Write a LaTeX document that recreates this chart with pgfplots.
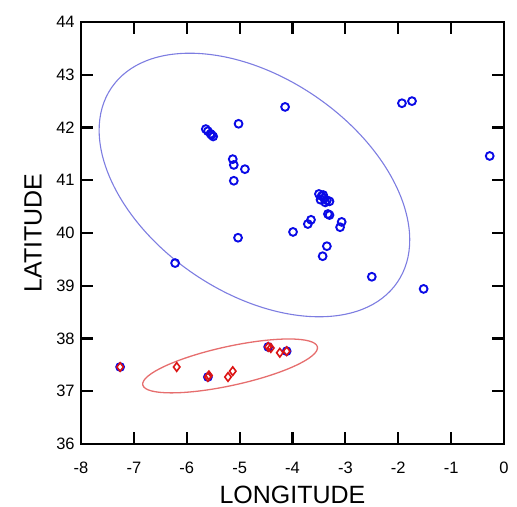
\documentclass[border=0pt]{standalone}
\usepackage{pgfplots}
\pgfplotsset{compat=1.18}
\usepackage{fontspec}
\setmainfont{Liberation Sans}
\definecolor{ptblue}{RGB}{10,10,230}
\definecolor{ellblue}{RGB}{125,125,225}
\definecolor{ptred}{RGB}{220,20,20}
\definecolor{ellred}{RGB}{230,110,110}
\begin{document}
\begin{tikzpicture}
\begin{axis}[
  name=ax,
  scale only axis, width=423pt, height=422pt,
  xmin=-8, xmax=0, ymin=36, ymax=44,
  xtick={-8,...,0}, ytick={36,...,44},
  tick align=inside, tick pos=both,
  major tick length=12pt,
  every tick/.style={draw=black, line width=2pt},
  every axis/.append style={line width=2pt},
  /pgf/number format/assume math mode=true,
  ticklabel style={font=\fontsize{16.5}{18}\selectfont},
  xticklabel style={yshift=-14pt},
  yticklabel style={xshift=-2pt},
  xlabel={LONGITUDE}, ylabel={LATITUDE},
  label style={font=\fontsize{25}{28}\selectfont},
  xlabel style={at={(axis description cs:0.5,-0.12)}, anchor=center},
  ylabel style={at={(axis description cs:-0.113,0.5)}, anchor=center},
]
% blue ellipse and red ellipse
\draw[ellblue, line width=1.1pt, rotate around={-34.2:(axis cs:-4.72,40.91)}]
  (axis cs:-4.72,40.91) ellipse [x radius=3.27, y radius=2.04];
\draw[ellred, line width=1.3pt, rotate around={12.3:(axis cs:-5.18,37.48)}]
  (axis cs:-5.18,37.48) ellipse [x radius=1.69, y radius=0.37];
% blue circles
\addplot[only marks, mark=o, mark size=3.9pt, ptblue, mark options={line width=1.9pt}] coordinates {
  (-5.64,41.97) (-5.60,41.93) (-5.55,41.88) (-5.50,41.83) (-5.53,41.86)
  (-5.02,42.07)
  (-5.13,41.40) (-5.11,41.29) (-4.90,41.21) (-5.11,40.99)
  (-4.14,42.39)
  (-5.03,39.91) (-6.22,39.43)
  (-3.50,40.74) (-3.45,40.70) (-3.40,40.66) (-3.35,40.62) (-3.30,40.60)
  (-3.47,40.63) (-3.38,40.58) (-3.42,40.72)
  (-3.33,40.36) (-3.30,40.34)
  (-3.65,40.25) (-3.71,40.17) (-3.99,40.02)
  (-3.07,40.21) (-3.10,40.11)
  (-3.35,39.75) (-3.43,39.56)
  (-2.50,39.17) (-1.52,38.94)
  (-1.93,42.46) (-1.74,42.50) (-0.27,41.46)
  (-7.26,37.46) (-5.60,37.27) (-4.46,37.84) (-4.11,37.76)
};
% red diamonds
\addplot[only marks, mark=diamond, mark size=4.3pt, ptred, mark options={line width=1.6pt}] coordinates {
  (-7.26,37.46) (-6.19,37.46)
  (-5.60,37.27) (-5.58,37.30)
  (-5.22,37.27) (-5.13,37.38)
  (-4.46,37.84) (-4.41,37.82) (-4.24,37.73) (-4.11,37.76)
};
\end{axis}
% frame and inward ticks (drawn over the axis)
\draw[draw=black, line width=2pt] (ax.south west) rectangle (ax.north east);
\foreach \i in {1,...,7} {
  \draw[draw=black, line width=2.2pt] ([xshift=\i*52.875pt]ax.south west) -- ++(0,12pt);
  \draw[draw=black, line width=2.2pt] ([xshift=\i*52.875pt]ax.north west) -- ++(0,-12pt);
  \draw[draw=black, line width=2.2pt] ([yshift=\i*52.75pt]ax.south west) -- ++(12pt,0);
  \draw[draw=black, line width=2.2pt] ([yshift=\i*52.75pt]ax.south east) -- ++(-12pt,0);
}
\path ([shift={(-81pt,-63pt)}]ax.south west) rectangle ([shift={(13pt,22pt)}]ax.north east);
\end{tikzpicture}
\end{document}
